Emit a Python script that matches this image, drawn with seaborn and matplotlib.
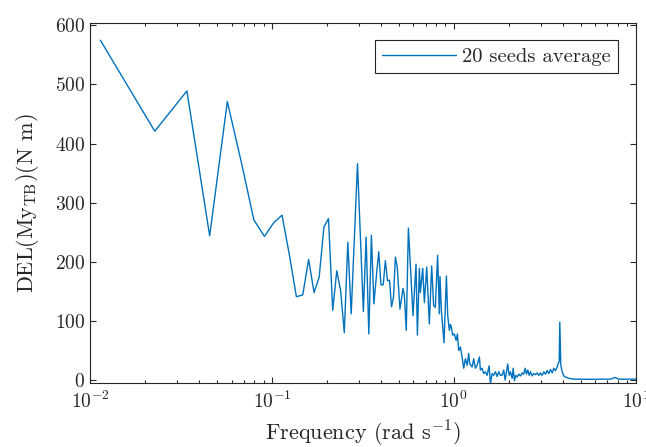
import numpy as np
import pandas as pd
import matplotlib
matplotlib.use("Agg")
import matplotlib.pyplot as plt
import seaborn as sns
from matplotlib.ticker import LogLocator, NullLocator, NullFormatter

# frequency bins (rad/s) and 20-seed averaged DEL values (N m)
freq = [0.0114, 0.0227, 0.0341, 0.0455, 0.0569, 0.0682, 0.0796, 0.0910, 0.1023, 0.1137,
        0.1251, 0.1364, 0.1478, 0.1592, 0.1706, 0.1819, 0.1933, 0.2047, 0.2160, 0.2274,
        0.2388, 0.2501, 0.2615, 0.2729, 0.2843, 0.2956, 0.3070, 0.3184, 0.3297, 0.3411,
        0.3525, 0.3638, 0.3752, 0.3866, 0.3980, 0.4093, 0.4207, 0.4321, 0.4434, 0.4548,
        0.4662, 0.4775, 0.4889,
        0.506, 0.526, 0.535, 0.548, 0.563, 0.597, 0.620, 0.631, 0.647, 0.655,
        0.675, 0.689, 0.710, 0.734, 0.756, 0.775, 0.792, 0.815, 0.833, 0.840,
        0.855, 0.884, 0.911, 0.926, 0.946, 0.958, 0.966, 0.986, 1.008, 1.030,
        1.047, 1.064, 1.087, 1.111, 1.134, 1.158, 1.184, 1.208, 1.223, 1.261,
        1.287, 1.315, 1.344, 1.383, 1.401, 1.431, 1.460, 1.492, 1.525, 1.564,
        1.590, 1.625, 1.658, 1.694, 1.731, 1.767, 1.805, 1.844, 1.882, 1.916,
        1.948, 1.980, 2.016, 2.049, 2.094, 2.121, 2.156, 2.192, 2.231, 2.277,
        2.326, 2.377, 2.425, 2.469, 2.510, 2.551, 2.597, 2.640, 2.697, 2.753,
        2.812, 2.873, 2.932, 2.996, 3.061, 3.124, 3.192, 3.261, 3.329, 3.401,
        3.475, 3.547, 3.624, 3.703, 3.750, 3.798, 3.827, 3.876, 3.945, 4.026,
        4.114, 4.203, 4.289, 4.570, 4.975, 5.5, 6.41, 7.28, 7.69, 8.05,
        8.80, 10.0]

del_avg = [575, 421, 489, 244, 471, 366, 271, 243, 266, 279,
           210, 141, 144, 204, 148, 174, 259, 273, 118, 185,
           151, 80, 233, 112, 240, 366, 240, 116, 242, 78,
           245, 129, 175, 217, 161, 161, 202, 168, 169, 124,
           140, 208, 191,
           120, 155, 143, 84, 257, 109, 196, 76, 189, 148,
           189, 131, 191, 95, 193, 126, 123, 211, 112, 175,
           117, 63, 176, 109, 84, 94, 92, 76, 78, 67,
           78, 50, 56, 39, 20, 36, 25, 45, 28, 22,
           36, 20, 25, 39, 17, 20, 11, 14, 8, 24,
           -6, 11, 8, 14, 6, 14, 8, 8, 17, 0,
           14, 27, 8, 14, 3, 20, -1, 8, 5, 10,
           7, 12, 10, 20, 10, 17, 8, 14, 7, 11,
           9, 12, 8, 12, 8, 14, 10, 16, 11, 18,
           12, 20, 16, 22, 28, 31, 98, 25, 14, 7,
           5, 4, 3, 1.5, 1.5, 1.2, 1.5, 1.5, 4.5, 1.5,
           1.5, 1.5]

df = pd.DataFrame({"freq": freq, "DEL": del_avg})

sns.set_style("ticks")
plt.rcParams["font.family"] = ["cmr10"]
plt.rcParams["mathtext.fontset"] = "cm"
plt.rcParams["axes.formatter.use_mathtext"] = True
plt.rcParams["axes.unicode_minus"] = False

axcol = (0.15, 0.15, 0.15)
fig = plt.figure(figsize=(6.46, 4.47), dpi=100)
ax = fig.add_axes([0.1393, 0.1425, 0.8447, 0.8067])

sns.lineplot(data=df, x="freq", y="DEL", estimator=None, sort=False,
             color="#0072BD", linewidth=1.0, label="20 seeds average", ax=ax)

ax.set_xscale("log")
ax.set_xlim(0.01, 10)
ax.set_ylim(-5.5, 604.5)
ax.set_yticks([0, 100, 200, 300, 400, 500, 600])
ax.yaxis.set_minor_locator(NullLocator())
ax.xaxis.set_major_locator(LogLocator(base=10, numticks=10))
ax.xaxis.set_minor_locator(LogLocator(base=10, subs=np.arange(2, 10), numticks=20))
ax.xaxis.set_minor_formatter(NullFormatter())

ax.tick_params(which="both", direction="in", top=True, right=True,
               colors=axcol, labelcolor="#262626", labelsize=14)
ax.tick_params(which="major", length=4.3, width=0.8)
ax.tick_params(which="minor", length=2.2, width=0.8)
ax.tick_params(axis="x", pad=5)
for s in ax.spines.values():
    s.set_color(axcol)
    s.set_linewidth(0.8)

ax.set_xlabel(r"Frequency (rad s$^{-1}$)", fontsize=16, color="#262626", labelpad=5)
ax.set_ylabel(r"DEL(My$_{\mathrm{TB}}$)(N m)", fontsize=16, color="#262626", labelpad=10)

leg = ax.legend(loc="upper right", fontsize=14.8, frameon=True, fancybox=False,
                handlelength=3.6, handletextpad=0.3, borderpad=0.35,
                borderaxespad=0.85)
leg.get_frame().set_edgecolor(axcol)
leg.get_frame().set_linewidth(0.8)
leg.get_frame().set_alpha(1)

fig.savefig("out.png", dpi=100)
